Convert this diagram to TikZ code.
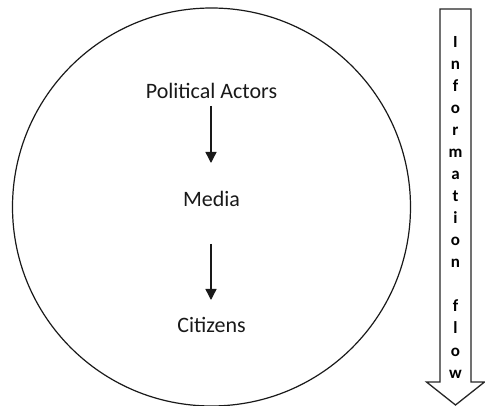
\documentclass[tikz,border=0pt]{standalone}
\usepackage{fontspec}
\setmainfont{Carlito}
\usetikzlibrary{arrows.meta}
\tikzset{
  lbl/.style={font=\fontsize{22}{26}\selectfont, inner sep=0pt, anchor=base, text=black!90},
  flowarrow/.style={-{Triangle[length=11pt,width=11pt]}, line width=1.4pt, draw=black!90},
  letter/.style={font=\fontsize{17}{19}\selectfont\bfseries, inner sep=0pt, anchor=base},
  bigarrow/.style={draw=black!85, line width=1.3pt, fill=white, line join=miter}
}
\begin{document}
\begin{tikzpicture}[x=1pt,y=-1pt]
\useasboundingbox (0,0) rectangle (485,406);
\node[circle, draw=black!90, line width=1.2pt, minimum size=398pt, inner sep=0pt] (c) at (211.5,207) {};
\node[lbl] (pa) at (211.5,98.3) {Political Actors};
\node[lbl] (me) at (211.5,206.7) {Media};
\node[lbl] (ci) at (211.5,333) {Citizens};
\coordinate (a1s) at (211,106);
\coordinate (a1e) at (211,163);
\coordinate (a2s) at (211,244);
\coordinate (a2e) at (211,300);
\draw[flowarrow] (a1s) -- (a1e);
\draw[flowarrow] (a2s) -- (a2e);
\draw[bigarrow] (440,9) -- (471,9) -- (471,382) -- (484.5,382) -- (455.5,405) -- (426.5,382) -- (440,382) -- cycle;
\foreach \ch [count=\i from 0] in {I,n,f,o,r,m,a,t,i,o,n,{},f,l,o,w}{
  \node[letter] (l\i) at (455.5,{48+22*\i}) {\ch};
}
\end{tikzpicture}
\end{document}
